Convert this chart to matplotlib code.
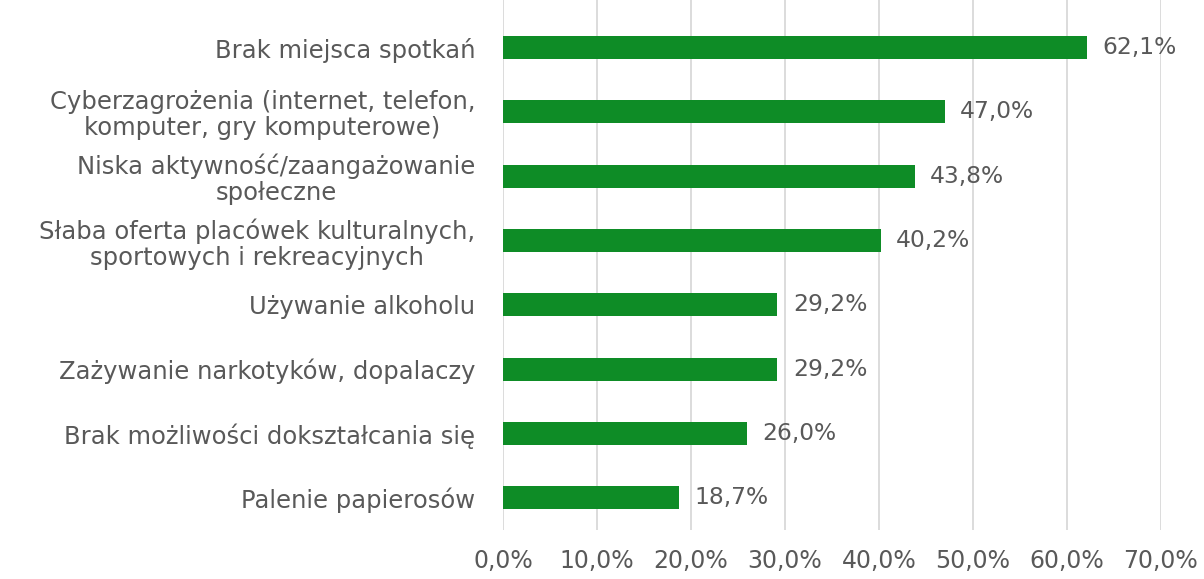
import matplotlib.pyplot as plt

# data
categories = [
    'Brak miejsca spotkań',
    'Cyberzagrożenia (internet, telefon,\nkomputer, gry komputerowe)',
    'Niska aktywność/zaangażowanie\nspołeczne',
    'Słaba oferta placówek kulturalnych,\nsportowych i rekreacyjnych',
    'Używanie alkoholu',
    'Zażywanie narkotyków, dopalaczy',
    'Brak możliwości dokształcania się',
    'Palenie papierosów',
]
values = [62.1, 47.0, 43.8, 40.2, 29.2, 29.2, 26.0, 18.7]
xticks = [0, 10, 20, 30, 40, 50, 60, 70]

text_color = '#595959'
bar_color = '#0E8C26'

plt.rcParams['font.family'] = ['DejaVu Sans']

fig = plt.figure(figsize=(12.04, 5.79), dpi=100)
ax = fig.add_axes([503 / 1204, 49 / 579, 658 / 1204, 530 / 579])

pos = list(range(len(categories)))
bars = ax.barh(pos, values, height=0.36, color=bar_color, zorder=3)

ax.bar_label(bars, labels=[f'{v:.1f}%'.replace('.', ',') for v in values],
             padding=11, fontsize=16.8, color=text_color)

ax.set_xlim(0, 70)
ax.set_ylim(7.5, -0.74)
ax.set_xticks(xticks)
ax.set_xticklabels([f'{t:.1f}%'.replace('.', ',') for t in xticks])
ax.set_yticks(pos)
ax.set_yticklabels(categories)
for lbl in ax.get_yticklabels():
    lbl.set_multialignment('center')
    lbl.set_linespacing(1.1)

ax.tick_params(axis='both', length=0, labelsize=17, labelcolor=text_color)
ax.tick_params(axis='y', pad=20, labelsize=17.5)
ax.tick_params(axis='x', pad=14)

ax.grid(axis='x', color='#D9D9D9', linewidth=1.3, zorder=0)
for s in ax.spines.values():
    s.set_visible(False)

fig.savefig('out.png', dpi=100)
